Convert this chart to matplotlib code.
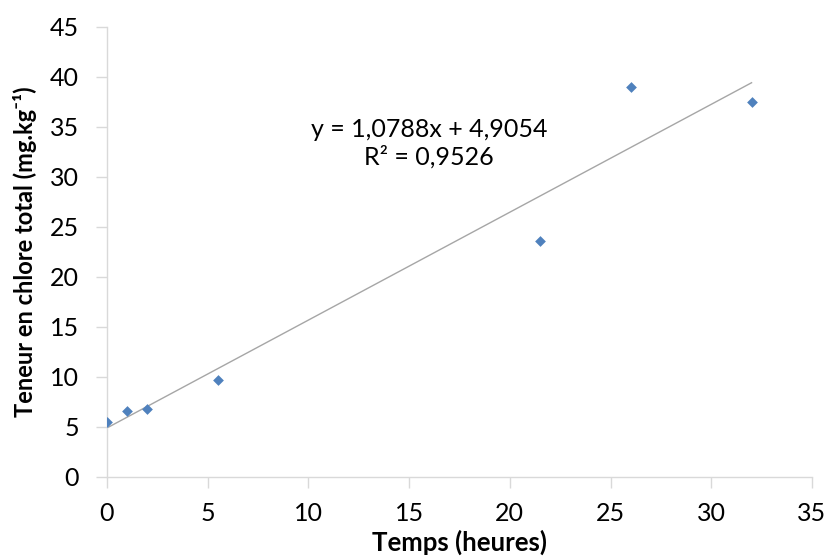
import numpy as np
import matplotlib
matplotlib.use('Agg')
import matplotlib.pyplot as plt

# data
temps = [0, 1, 2, 5.5, 21.5, 26, 32]
chlore = [5.5, 6.6, 6.8, 9.7, 23.6, 39.0, 37.5]
pente = 1.0788
origine = 4.9054
r2 = 0.9526

plt.rcParams['font.family'] = ['Lato', 'DejaVu Sans']

fig = plt.figure(figsize=(8.26, 5.58), dpi=100)
ax = fig.add_axes([107 / 826, 1 - 477 / 558, 705 / 826, 450 / 558])

# trend line
xl = np.array([min(temps), max(temps)])
ax.plot(xl, pente * xl + origine, color='#A6A6A6', lw=1.0, zorder=2)

ax.scatter(temps, chlore, marker='D', s=30, color='#4F81BD', zorder=3,
           linewidths=0)

ax.text(16.0, 33.4, 'y = 1,0788x + 4,9054\nR² = 0,9526', ha='center',
        va='center', fontsize=18, linespacing=1.2)

ax.set_xlim(0, 35)
ax.set_ylim(0, 45)
ax.set_xticks(range(0, 36, 5))
ax.set_yticks(range(0, 46, 5))
for s in ['top', 'right']:
    ax.spines[s].set_visible(False)
for s in ['left', 'bottom']:
    ax.spines[s].set_color('#D9D9D9')
    ax.spines[s].set_linewidth(1.0)
ax.tick_params(colors='#D9D9D9', labelcolor='black', length=8, width=1.0,
               labelsize=18)
ax.tick_params(axis='x', pad=10)
ax.tick_params(axis='y', pad=12)

ax.set_xlabel('Temps (heures)', fontsize=18.5, fontweight='bold', va='center')
ax.set_ylabel('Teneur en chlore total (mg.kg⁻¹)', fontsize=17,
              fontweight='bold', va='center')
ax.xaxis.set_label_coords(0.5, -(542 - 477) / 450)
ax.yaxis.set_label_coords((25 - 107) / 705, 0.5)

fig.savefig('out.png', dpi=100)
